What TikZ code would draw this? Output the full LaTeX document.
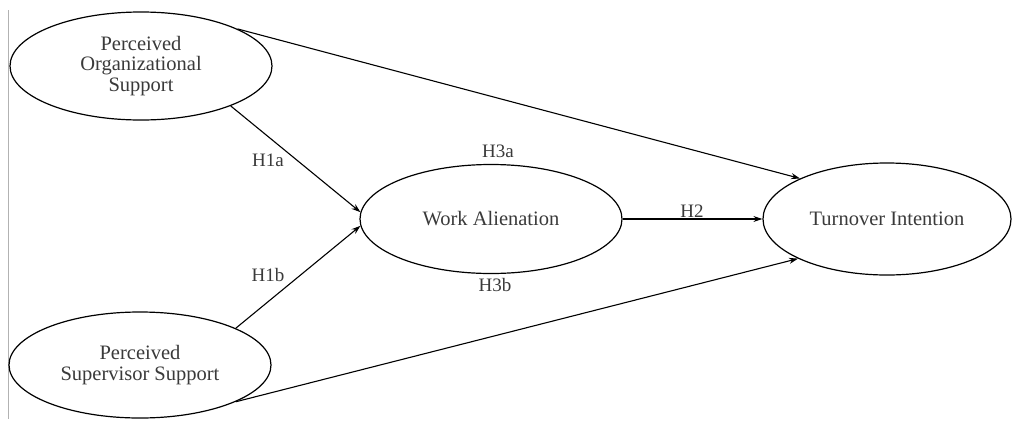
\documentclass[tikz,border=0pt]{standalone}
\usepackage{fontspec}
\setmainfont{Liberation Serif}
\usetikzlibrary{shapes.geometric,arrows.meta}
\definecolor{txt}{HTML}{3A3A3A}
\begin{document}
\begin{tikzpicture}[x=1pt,y=-1pt,
  construct/.style={draw=black,line width=1.2pt,ellipse,inner sep=0pt,align=center,
    text=txt,font=\fontsize{20.5}{20.5}\selectfont},
  path/.style={draw=black,line width=1.1pt,-{Stealth[length=9pt,width=6pt]}},
  hyp/.style={text=txt,font=\fontsize{19}{19}\selectfont,inner sep=0pt}]
\useasboundingbox (0,0) rectangle (1015,421);
\draw[black!30,line width=0.8pt] (8,10) -- (8,419);
\node[construct,minimum width=262pt,minimum height=108pt] (pos) at (141,66) {Perceived\\Organizational\\Support};
\node[construct,minimum width=262pt,minimum height=106pt] (pss) at (140,365) {Perceived\\Supervisor Support};
\node[construct,minimum width=262pt,minimum height=109pt] (wa) at (491,219) {Work Alienation};
\node[construct,minimum width=248pt,minimum height=112pt] (ti) at (887,219) {Turnover Intention};
\draw[path] (pos.21) -- (ti.155);
\draw[path] (pss.339) -- (ti.204);
\draw[path] (pos.336) -- (wa.177);
\draw[path] (pss.21) -- (wa.183);
\draw[path] (wa.east) -- (ti.west);
\node[hyp] (h1a) at (268,160) {H1a};
\node[hyp] (h1b) at (268,275) {H1b};
\node[hyp] (h3a) at (498,151) {H3a};
\node[hyp] (h3b) at (495,285) {H3b};
\node[hyp] (h2) at (692,211) {H2};
\end{tikzpicture}
\end{document}
